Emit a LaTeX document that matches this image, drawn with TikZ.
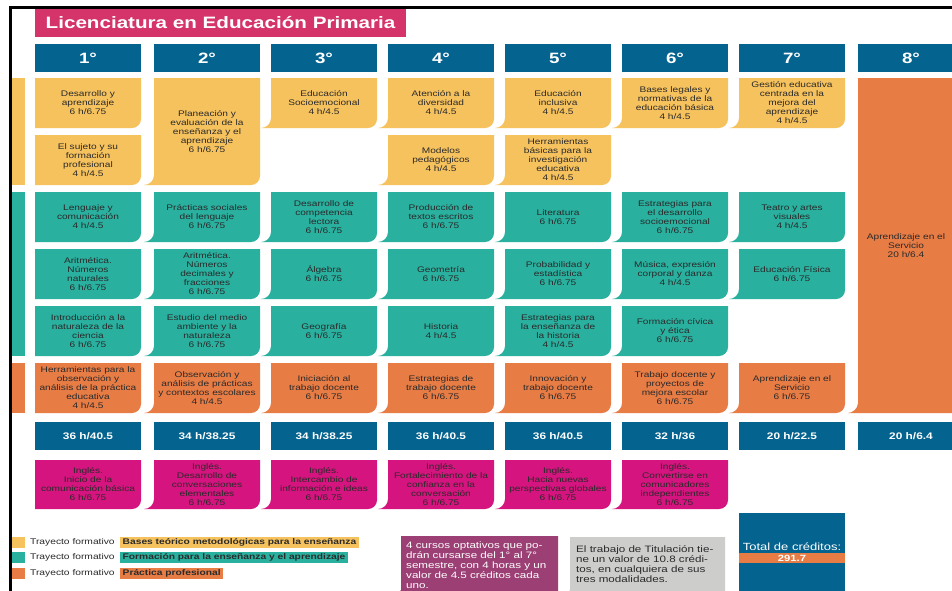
\documentclass[tikz,border=0pt]{standalone}
\usepackage{fontspec}
\setmainfont{Liberation Sans}[FakeStretch=1.25]
\definecolor{yel}{HTML}{F6C25E}
\definecolor{tea}{HTML}{29B09F}
\definecolor{ora}{HTML}{E77C45}
\definecolor{blu}{HTML}{05638F}
\definecolor{mag}{HTML}{D6147F}
\definecolor{tit}{HTML}{D5346A}
\definecolor{pur}{HTML}{9B3F74}
\definecolor{gri}{HTML}{CDCECC}
\definecolor{dark}{HTML}{2A2A2A}
\newcommand\mycell[6]{% x0, ytop, ybot, colour, name, text
  \pgfmathsetmacro\cxa{#1}\pgfmathsetmacro\cxb{#1+106}%
  \pgfmathsetmacro\cfl{ifthenelse(#1<40,0,10)}%
  \fill[#4] (\cxa,#2) -- (\cxb,#2) -- (\cxb,#3-9) .. controls (\cxb,#3-4) and (\cxb-4,#3) .. (\cxb-9,#3) -- (\cxa-\cfl,#3) .. controls (\cxa-\cfl*0.45,#3) and (\cxa,#3-\cfl*0.45) .. (\cxa,#3-\cfl) -- cycle;
  \node[txt] (#5) at ({(\cxa+\cxb)/2},{(#2+#3)/2}) {#6};}
\newcommand\myhead[3]{% x0, name, text
  \fill[blu] (#1,44) rectangle (#1+106,72);
  \node[hdr] (#2) at (#1+53,58) {#3};}
\newcommand\mytot[3]{% x0, name, text
  \fill[blu] (#1,422) rectangle (#1+106,450);
  \node[tot] (#2) at (#1+53,436) {#3};}
\begin{document}
\begin{tikzpicture}[x=1pt,y=-1pt,
  txt/.style={text=dark,align=center,inner sep=0pt,font=\fontsize{8.1}{9}\selectfont},
  hdr/.style={text=white,inner sep=0pt,font=\bfseries\fontsize{15}{15}\selectfont},
  tot/.style={text=white,inner sep=0pt,font=\bfseries\fontsize{9.5}{10}\selectfont},
  leg/.style={text=dark,inner sep=0pt,font=\fontsize{8.2}{9}\selectfont},
  legb/.style={text=dark,inner xsep=2.5pt,inner ysep=0pt,minimum height=11pt,font=\bfseries\fontsize{8.2}{9}\selectfont},
  note/.style={align=left,inner sep=0pt,font=\fontsize{9.3}{10}\selectfont}]
\useasboundingbox (0,0) rectangle (952,590);
\clip (0,0) rectangle (952,590);
\fill[white] (0,0) rectangle (952,590);
% frame
\draw[line width=2.5pt,black] (10.5,600) -- (10.5,7.5) -- (960,7.5);
% title
\fill[tit] (35,9) rectangle (406,37);
\node[text=white,inner sep=0pt,font=\bfseries\fontsize{16.5}{18}\selectfont] (title) at (220.5,23) {Licenciatura en Educación Primaria};
% headers
\myhead{35}{h1}{1°}
\myhead{154}{h2}{2°}
\myhead{271}{h3}{3°}
\myhead{388}{h4}{4°}
\myhead{505}{h5}{5°}
\myhead{622}{h6}{6°}
\myhead{739}{h7}{7°}
\fill[blu] (858,44) rectangle (964,72);
\node[hdr] (h8) at (911,58) {8°};
% side strips
\fill[yel] (12,78) rectangle (25,185);
\fill[tea] (12,192) rectangle (25,356);
\fill[ora] (12,363) rectangle (25,413);
% yellow cells
\mycell{35}{78}{128}{yel}{c11}{Desarrollo y\\aprendizaje\\6 h/6.75}
\mycell{35}{135}{185}{yel}{c21}{El sujeto y su\\formación\\profesional\\4 h/4.5}
\mycell{154}{78}{185}{yel}{c12}{Planeación y\\evaluación de la\\enseñanza y el\\aprendizaje\\6 h/6.75}
\mycell{271}{78}{128}{yel}{c13}{Educación\\Socioemocional\\4 h/4.5}
\mycell{388}{78}{128}{yel}{c14}{Atención a la\\diversidad\\4 h/4.5}
\mycell{388}{135}{185}{yel}{c24}{Modelos\\pedagógicos\\4 h/4.5}
\mycell{505}{78}{128}{yel}{c15}{Educación\\inclusiva\\4 h/4.5}
\mycell{505}{135}{185}{yel}{c25}{Herramientas\\básicas para la\\investigación\\educativa\\4 h/4.5}
\mycell{622}{78}{128}{yel}{c16}{Bases legales y\\normativas de la\\educación básica\\4 h/4.5}
\mycell{739}{78}{128}{yel}{c17}{Gestión educativa\\centrada en la\\mejora del\\aprendizaje\\4 h/4.5}
% teal row 3
\mycell{35}{192}{242}{tea}{c31}{Lenguaje y\\comunicación\\4 h/4.5}
\mycell{154}{192}{242}{tea}{c32}{Prácticas sociales\\del lenguaje\\6 h/6.75}
\mycell{271}{192}{242}{tea}{c33}{Desarrollo de\\competencia\\lectora\\6 h/6.75}
\mycell{388}{192}{242}{tea}{c34}{Producción de\\textos escritos\\6 h/6.75}
\mycell{505}{192}{242}{tea}{c35}{Literatura\\6 h/6.75}
\mycell{622}{192}{242}{tea}{c36}{Estrategias para\\el desarrollo\\socioemocional\\6 h/6.75}
\mycell{739}{192}{242}{tea}{c37}{Teatro y artes\\visuales\\4 h/4.5}
% teal row 4
\mycell{35}{249}{299}{tea}{c41}{Aritmética.\\Números\\naturales\\6 h/6.75}
\mycell{154}{249}{299}{tea}{c42}{Aritmética.\\Números\\decimales y\\fracciones\\6 h/6.75}
\mycell{271}{249}{299}{tea}{c43}{Álgebra\\6 h/6.75}
\mycell{388}{249}{299}{tea}{c44}{Geometría\\6 h/6.75}
\mycell{505}{249}{299}{tea}{c45}{Probabilidad y\\estadística\\6 h/6.75}
\mycell{622}{249}{299}{tea}{c46}{Música, expresión\\corporal y danza\\4 h/4.5}
\mycell{739}{249}{299}{tea}{c47}{Educación Física\\6 h/6.75}
% teal row 5
\mycell{35}{306}{356}{tea}{c51}{Introducción a la\\naturaleza de la\\ciencia\\6 h/6.75}
\mycell{154}{306}{356}{tea}{c52}{Estudio del medio\\ambiente y la\\naturaleza\\6 h/6.75}
\mycell{271}{306}{356}{tea}{c53}{Geografía\\6 h/6.75}
\mycell{388}{306}{356}{tea}{c54}{Historia\\4 h/4.5}
\mycell{505}{306}{356}{tea}{c55}{Estrategias para\\la enseñanza de\\la historia\\4 h/4.5}
\mycell{622}{306}{356}{tea}{c56}{Formación cívica\\y ética\\6 h/6.75}
% orange row 6
\mycell{35}{363}{413}{ora}{c61}{Herramientas para la\\observación y\\análisis de la práctica\\educativa\\4 h/4.5}
\mycell{154}{363}{413}{ora}{c62}{Observación y\\análisis de prácticas\\y contextos escolares\\4 h/4.5}
\mycell{271}{363}{413}{ora}{c63}{Iniciación al\\trabajo docente\\6 h/6.75}
\mycell{388}{363}{413}{ora}{c64}{Estrategias de\\trabajo docente\\6 h/6.75}
\mycell{505}{363}{413}{ora}{c65}{Innovación y\\trabajo docente\\6 h/6.75}
\mycell{622}{363}{413}{ora}{c66}{Trabajo docente y\\proyectos de\\mejora escolar\\6 h/6.75}
\mycell{739}{363}{413}{ora}{c67}{Aprendizaje en el\\Servicio\\6 h/6.75}
% 8th semester
\fill[ora] (858,78) -- (964,78) -- (964,413) -- (848,413) .. controls (852.5,413) and (858,408.5) .. (858,403) -- cycle;
\node[txt] (c8) at (906,246) {Aprendizaje en el\\Servicio\\20 h/6.4};
% totals
\mytot{35}{t1}{36 h/40.5}
\mytot{154}{t2}{34 h/38.25}
\mytot{271}{t3}{34 h/38.25}
\mytot{388}{t4}{36 h/40.5}
\mytot{505}{t5}{36 h/40.5}
\mytot{622}{t6}{32 h/36}
\mytot{739}{t7}{20 h/22.5}
\fill[blu] (858,422) rectangle (964,450);
\node[tot] (t8) at (911,436) {20 h/6.4};
% English
\mycell{35}{460}{509}{mag}{e1}{Inglés.\\Inicio de la\\comunicación básica\\6 h/6.75}
\mycell{154}{460}{509}{mag}{e2}{Inglés.\\Desarrollo de\\conversaciones\\elementales\\6 h/6.75}
\mycell{271}{460}{509}{mag}{e3}{Inglés.\\Intercambio de\\información e ideas\\6 h/6.75}
\mycell{388}{460}{509}{mag}{e4}{Inglés.\\Fortalecimiento de la\\confianza en la\\conversación\\6 h/6.75}
\mycell{505}{460}{509}{mag}{e5}{Inglés.\\Hacia nuevas\\perspectivas globales\\6 h/6.75}
\mycell{622}{460}{509}{mag}{e6}{Inglés.\\Convertirse en\\comunicadores\\independientes\\6 h/6.75}
% legend
\fill[yel] (12,537) rectangle (25,548);
\fill[tea] (12,552) rectangle (25,563);
\fill[ora] (12,568) rectangle (25,579);
\node[leg,anchor=west] (l1) at (30,542.5) {Trayecto formativo};
\node[leg,anchor=west] (l2) at (30,557.5) {Trayecto formativo};
\node[leg,anchor=west] (l3) at (30,573.5) {Trayecto formativo};
\node[legb,fill=yel,anchor=west] (lb1) at (120,542.5) {Bases teórico metodológicas para la enseñanza};
\node[legb,fill=tea,anchor=west] (lb2) at (120,557.5) {Formación para la enseñanza y el aprendizaje};
\node[legb,fill=ora,anchor=west] (lb3) at (120,573.5) {Práctica profesional};
% notes
\fill[pur] (401,536) -- (558,536) -- (558,600) -- (391,600) -- (401,590) -- cycle;
\node[note,text=white,anchor=north west] (n1) at (406,541.5) {4 cursos optativos que po-\\drán cursarse del 1° al 7°\\semestre, con 4 horas y un\\valor de 4.5 créditos cada\\uno.};
\fill[gri] (570,537) -- (725,537) -- (725,600) -- (560,600) -- (570,590) -- cycle;
\node[note,text=dark,anchor=north west] (n2) at (576,545) {El trabajo de Titulación tie-\\ne un valor de 10.8 crédi-\\tos, en cualquiera de sus\\tres modalidades.};
% total credits
\fill[blu] (739,513) rectangle (845,600);
\node[text=white,inner sep=0pt,font=\fontsize{10.4}{11}\selectfont] (tc) at (792,547) {Total de créditos:};
\fill[ora] (739,553) rectangle (845,563);
\node[text=white,inner sep=0pt,font=\bfseries\fontsize{9}{10}\selectfont] (tv) at (792,558) {291.7};
\end{tikzpicture}
\end{document}
